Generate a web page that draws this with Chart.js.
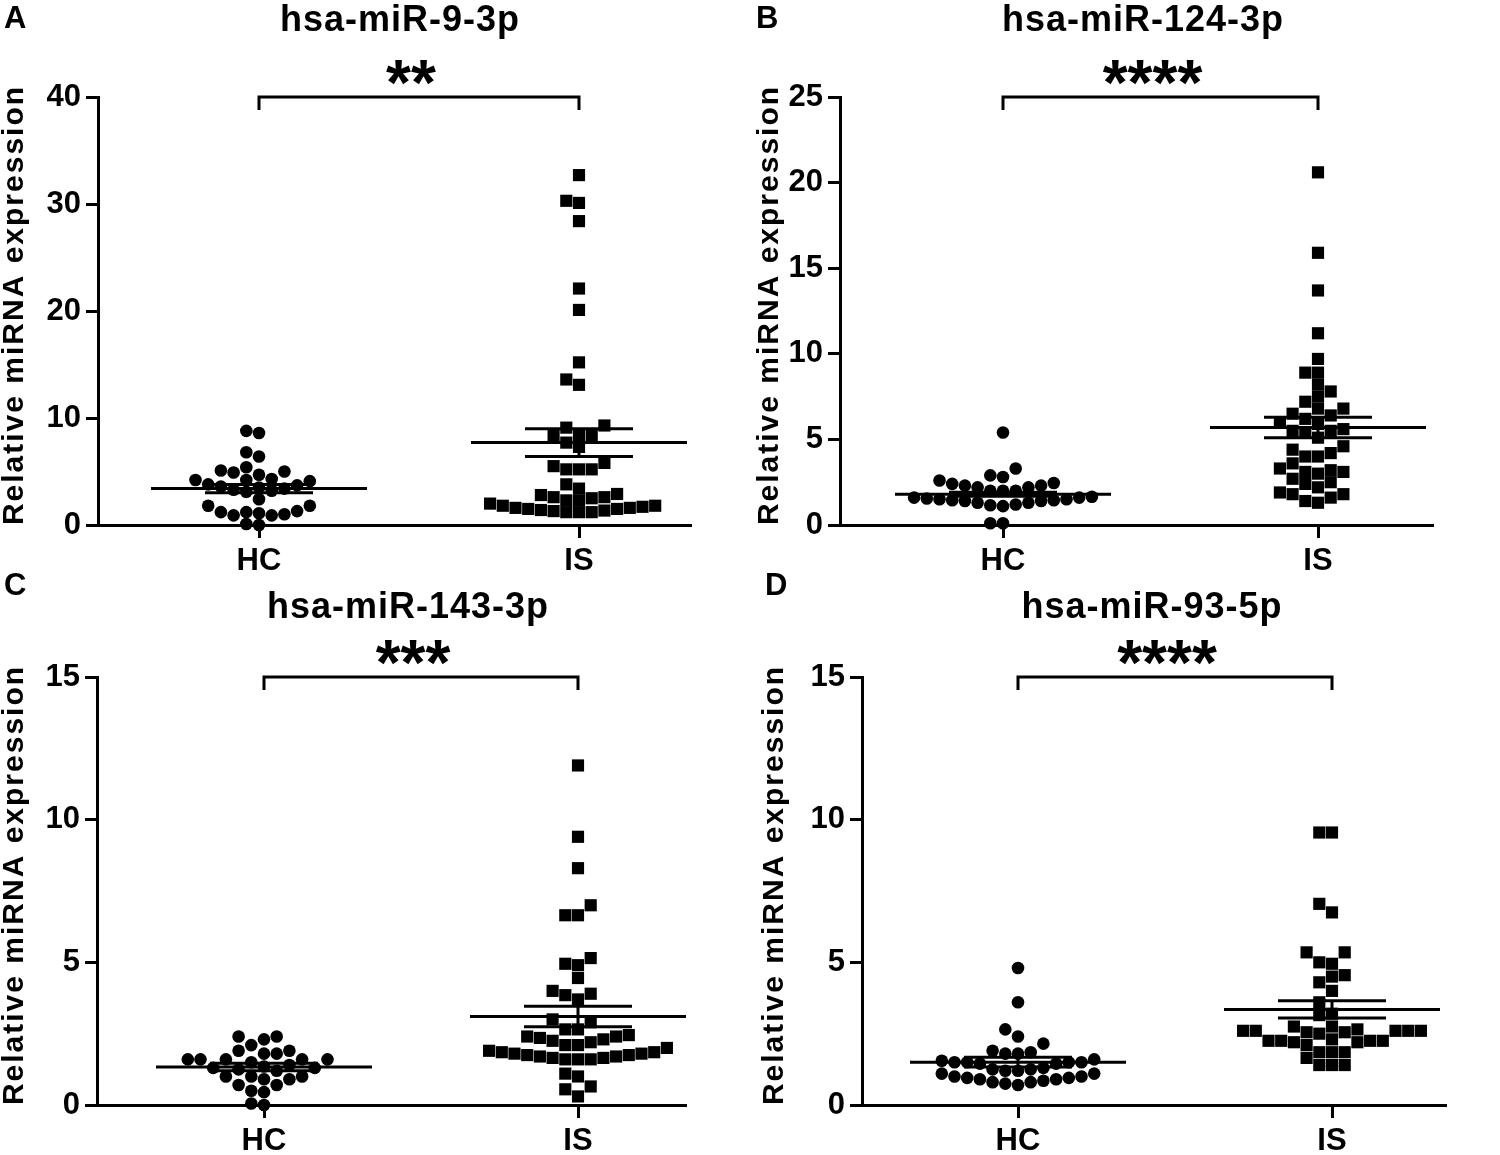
<!DOCTYPE html>
<html>
<head>
<meta charset="utf-8">
<title>Relative miRNA expression</title>
<script src="https://cdn.jsdelivr.net/npm/chart.js@4.4.1/dist/chart.umd.min.js"></script>
<style>
  html, body { margin: 0; padding: 0; background: #fff; }
  #wrap { position: relative; width: 1500px; height: 1155px; overflow: hidden; }
  #wrap canvas { position: absolute; }
</style>
</head>
<body>
<div id="wrap"></div>
<script>
/* --------------------------------------------------
   資料（由圖上讀取的估計值）
   -------------------------------------------------- */
var GROUPS  = ['HC', 'IS'];
var TITLES  = ['hsa-miR-9-3p', 'hsa-miR-124-3p', 'hsa-miR-143-3p', 'hsa-miR-93-5p'];
var LETTERS = ['A', 'B', 'C', 'D'];
var STARS   = ['**', '****', '***', '****'];
var Y_MAX   = [40, 25, 15, 15];
var Y_STEP  = [10, 5, 5, 5];
var Y_TITLE = 'Relative miRNA expression';

var hcA = [8.8, 8.6, 6.8, 6.4, 5.4, 5.1, 5.0, 4.9, 4.7, 4.3, 4.2, 4.2, 4.1, 3.8, 3.7, 3.6, 3.5,
           3.4, 3.3, 3.2, 3.1, 2.4, 1.8, 1.8, 1.3, 1.2, 1.2, 1.1, 1.0, 0.9, 0.9, 0.1, 0.0];
var isA = [32.7, 30.3, 30.1, 28.4, 22.1, 20.1, 15.2, 13.6, 13.1, 9.3, 9.1, 8.4, 8.4, 8.4, 7.7,
           7.3, 5.8, 5.5, 5.2, 5.2, 5.2, 3.8, 3.4, 2.9, 2.8, 2.6, 2.6, 2.5, 2.3, 2.3, 2.0, 1.8,
           1.8, 1.7, 1.6, 1.6, 1.5, 1.5, 1.4, 1.35, 1.3, 1.2, 1.2, 1.2];
var hcB = [5.4, 3.3, 2.9, 2.8, 2.6, 2.45, 2.4, 2.3, 2.3, 2.2, 2.2, 2.0, 2.0, 2.0, 1.65, 1.6,
           1.6, 1.55, 1.5, 1.5, 1.45, 1.45, 1.4, 1.4, 1.3, 1.3, 1.2, 1.15, 1.1, 0.1, 0.1];
var isB = [20.6, 15.9, 13.7, 11.2, 9.7, 8.9, 8.9, 8.2, 7.8, 7.5, 7.2, 6.8, 6.8, 6.5, 6.4, 6.2,
           6.0, 5.9, 5.6, 5.5, 5.5, 5.4, 5.1, 4.6, 4.4, 4.2, 4.0, 4.0, 3.6, 3.3, 3.2, 3.1, 3.1,
           3.0, 2.7, 2.5, 2.4, 2.2, 1.9, 1.8, 1.8, 1.6, 1.4, 1.3];
var hcC = [2.4, 2.4, 2.3, 2.1, 1.9, 1.9, 1.8, 1.8, 1.6, 1.6, 1.6, 1.6, 1.6, 1.5, 1.4, 1.35,
           1.3, 1.3, 1.25, 1.2, 1.0, 1.0, 1.0, 0.9, 0.9, 0.7, 0.7, 0.5, 0.45, 0.05, 0.0];
var isC = [11.9, 9.4, 8.3, 7.0, 6.65, 6.65, 5.15, 4.95, 4.9, 4.45, 4.0, 3.9, 3.85, 3.7, 3.0,
           2.9, 2.65, 2.65, 2.45, 2.4, 2.4, 2.35, 2.3, 2.25, 2.2, 2.1, 2.1, 2.0, 1.9, 1.85,
           1.85, 1.8, 1.8, 1.75, 1.75, 1.7, 1.7, 1.65, 1.65, 1.6, 1.6, 1.6, 1.1, 1.0, 0.65,
           0.55, 0.3];
var hcD = [4.8, 3.6, 2.65, 2.4, 2.15, 1.9, 1.85, 1.8, 1.8, 1.6, 1.55, 1.5, 1.5, 1.5, 1.5,
           1.45, 1.45, 1.3, 1.25, 1.25, 1.2, 1.2, 1.1, 1.1, 1.0, 1.0, 0.95, 0.95, 0.9, 0.9,
           0.85, 0.8, 0.8, 0.75, 0.7];
var isD = [9.55, 9.55, 7.05, 6.75, 5.35, 5.35, 5.0, 4.95, 4.55, 4.5, 4.3, 4.0, 3.6, 3.2, 3.15,
           2.75, 2.75, 2.65, 2.6, 2.6, 2.6, 2.6, 2.6, 2.55, 2.55, 2.5, 2.3, 2.25, 2.25, 2.25,
           2.25, 2.2, 2.2, 2.1, 1.85, 1.85, 1.85, 1.65, 1.4, 1.4, 1.4];

// mean ± SEM 線
var HC_MEAN = [3.4, 1.8, 1.33, 1.5];
var HC_SEM  = [0.38, 0.12, 0.13, 0.17];
var IS_MEAN = [7.7, 5.7, 3.1, 3.35];
var IS_SEM  = [1.3, 0.6, 0.36, 0.3];

var HC_VALUES = [hcA, hcB, hcC, hcD];
var IS_VALUES = [isA, isB, isC, isD];

/* --------------------------------------------------
   版面（絕對像素）
   canvas: [left, top, width, height]
   area:   [left, top, right, bottom] 繪圖區
   -------------------------------------------------- */
var PANELS = [
  { canvas: [0, 0, 750, 580],     area: [98, 97, 690, 525],     hcPx: 259,  isPx: 579,  title: [400, 21],   letter: [4, 4],     yTitleX: 15 },
  { canvas: [750, 0, 750, 580],   area: [840, 97, 1432, 525],   hcPx: 1003, isPx: 1318, title: [1143, 21],  letter: [756, 4],   yTitleX: 770 },
  { canvas: [0, 560, 750, 595],   area: [97, 677, 685, 1105],   hcPx: 264,  isPx: 578,  title: [408, 608],  letter: [4, 571],   yTitleX: 15 },
  { canvas: [750, 560, 750, 595], area: [862, 677, 1445, 1105], hcPx: 1018, isPx: 1332, title: [1152, 608], letter: [765, 571], yTitleX: 775 },
];

var FONT      = "'Liberation Sans', Arial, Helvetica, sans-serif";
var DOT_GAP_X = 12.7;   // 相鄰欄距（px）
var DOT_GAP_Y = 11.5;   // 同欄最小垂直距（px）
var MEAN_HALF = 108;    // 平均線半寬（px）
var SEM_HALF  = 54;     // SEM 線半寬（px）

Chart.defaults.font.family = FONT;
Chart.defaults.font.weight = 'bold';
Chart.defaults.color = '#000';

/* 類似 GraphPad 的散點排列：依數值排序，逐點放入離中心最近且不重疊的欄 */
function swarm(values, gi, pyUnit, pxUnit) {
  var sorted = values.slice().sort(function (a, b) { return a - b; });
  var placed = [];
  var out = [];
  sorted.forEach(function (v) {
    var py = v * pyUnit;
    for (var k = 0; k < 60; k++) {
      var col = k === 0 ? 0 : (k % 2 ? -Math.ceil(k / 2) : k / 2);
      var hit = placed.some(function (q) {
        return q.col === col && Math.abs(q.py - py) < DOT_GAP_Y;
      });
      if (!hit) {
        placed.push({ col: col, py: py });
        out.push({ x: gi + col * DOT_GAP_X / pxUnit, y: v });
        break;
      }
    }
  });
  return out;
}

function lineSet(points) {
  return {
    type: 'scatter',
    data: points,
    showLine: true,
    borderColor: '#000',
    borderWidth: 3,
    pointRadius: 0,
    clip: false,
  };
}

var annotatePlugin = {
  id: 'annotate',
  afterDraw: function (chart) {
    var i = chart.options.plugins.annotate.index;
    var p = PANELS[i];
    var ox = p.canvas[0], oy = p.canvas[1];
    var ctx = chart.ctx;
    var xs = chart.scales.x, ys = chart.scales.y;
    var area = chart.chartArea;

    ctx.save();
    ctx.fillStyle = '#000';
    ctx.strokeStyle = '#000';

    // 面板字母
    ctx.font = 'bold 31px ' + FONT;
    ctx.textAlign = 'left';
    ctx.textBaseline = 'top';
    ctx.fillText(LETTERS[i], p.letter[0] - ox, p.letter[1] - oy);

    // 標題
    ctx.font = 'bold 36px ' + FONT;
    ctx.letterSpacing = '1px';
    ctx.textAlign = 'center';
    ctx.textBaseline = 'middle';
    ctx.fillText(TITLES[i], p.title[0] - ox, p.title[1] - oy);

    // y 軸標題
    ctx.save();
    ctx.font = 'bold 30px ' + FONT;
    ctx.letterSpacing = '2px';
    ctx.translate(p.yTitleX - ox, (area.top + area.bottom) / 2 - 6);
    ctx.rotate(-Math.PI / 2);
    ctx.textAlign = 'center';
    ctx.textBaseline = 'middle';
    ctx.fillText(Y_TITLE, 0, 0);
    ctx.restore();

    // 顯著性括號與星號
    var x0 = xs.getPixelForValue(0);
    var x1 = xs.getPixelForValue(1);
    var yb = ys.getPixelForValue(Y_MAX[i]);
    ctx.lineWidth = 3;
    ctx.beginPath();
    ctx.moveTo(x0, yb + 13);
    ctx.lineTo(x0, yb);
    ctx.lineTo(x1, yb);
    ctx.lineTo(x1, yb + 13);
    ctx.stroke();

    ctx.letterSpacing = '0px';
    ctx.font = 'bold 64px ' + FONT;
    ctx.textAlign = 'center';
    ctx.textBaseline = 'alphabetic';
    ctx.fillText(STARS[i], (x0 + x1) / 2 - 8, yb + 8);
    ctx.restore();
  },
};

function makeChart(i) {
  var p = PANELS[i];
  var c = p.canvas, a = p.area;
  var wrap = document.getElementById('wrap');
  var cv = document.createElement('canvas');
  cv.width = c[2];
  cv.height = c[3];
  cv.style.left = c[0] + 'px';
  cv.style.top = c[1] + 'px';
  cv.style.width = c[2] + 'px';
  cv.style.height = c[3] + 'px';
  wrap.appendChild(cv);

  var pxUnit = p.isPx - p.hcPx;
  var xMin = -(p.hcPx - a[0]) / pxUnit;
  var xMax = (a[2] - p.hcPx) / pxUnit;
  var pyUnit = (a[3] - a[1]) / Y_MAX[i];
  var mw = MEAN_HALF / pxUnit, sw = SEM_HALF / pxUnit;

  var means = [HC_MEAN[i], IS_MEAN[i]];
  var sems  = [HC_SEM[i], IS_SEM[i]];
  var datasets = [];

  means.forEach(function (m, g) {
    var s = sems[g];
    datasets.push(lineSet([{ x: g - mw, y: m }, { x: g + mw, y: m }]));
    datasets.push(lineSet([{ x: g - sw, y: m + s }, { x: g + sw, y: m + s }]));
    datasets.push(lineSet([{ x: g - sw, y: m - s }, { x: g + sw, y: m - s }]));
    datasets.push(lineSet([{ x: g, y: m - s }, { x: g, y: m + s }]));
  });

  datasets.push({
    label: GROUPS[0],
    data: swarm(HC_VALUES[i], 0, pyUnit, pxUnit),
    pointStyle: 'circle',
    pointRadius: 6.3,
    backgroundColor: '#000',
    borderWidth: 0,
    clip: false,
  });
  datasets.push({
    label: GROUPS[1],
    data: swarm(IS_VALUES[i], 1, pyUnit, pxUnit),
    pointStyle: 'rect',
    pointRadius: 8.6,
    backgroundColor: '#000',
    borderWidth: 0,
    clip: false,
  });

  return new Chart(cv, {
    type: 'scatter',
    data: { datasets: datasets },
    plugins: [annotatePlugin],
    options: {
      responsive: false,
      animation: false,
      events: [],
      layout: {
        padding: { top: a[1] - c[1], right: c[0] + c[2] - a[2], left: 0, bottom: 0 },
      },
      plugins: {
        legend:   { display: false },
        tooltip:  { enabled: false },
        annotate: { index: i },
      },
      scales: {
        x: {
          type: 'linear',
          min: xMin,
          max: xMax,
          afterFit: function (scale) { scale.height = c[1] + c[3] - a[3]; },
          afterBuildTicks: function (scale) {
            scale.ticks = GROUPS.map(function (g, k) { return { value: k }; });
          },
          ticks: {
            font: { size: 31, weight: 'bold' },
            color: '#000',
            padding: 5,
            maxRotation: 0,
            autoSkip: false,
            callback: function (val) { return GROUPS[Math.round(val)]; },
          },
          grid:   { drawOnChartArea: false, drawTicks: true, tickLength: 13, color: '#000', lineWidth: 3 },
          border: { display: true, color: '#000', width: 3 },
        },
        y: {
          min: 0,
          max: Y_MAX[i],
          afterFit: function (scale) { scale.width = a[0] - c[0]; },
          ticks: {
            stepSize: Y_STEP[i],
            font: { size: 31, weight: 'bold' },
            color: '#000',
            padding: 5,
          },
          grid:   { drawOnChartArea: false, drawTicks: true, tickLength: 12, color: '#000', lineWidth: 3 },
          border: { display: true, color: '#000', width: 3 },
        },
      },
    },
  });
}

for (var i = 0; i < PANELS.length; i++) {
  makeChart(i);
}
</script>
</body>
</html>
